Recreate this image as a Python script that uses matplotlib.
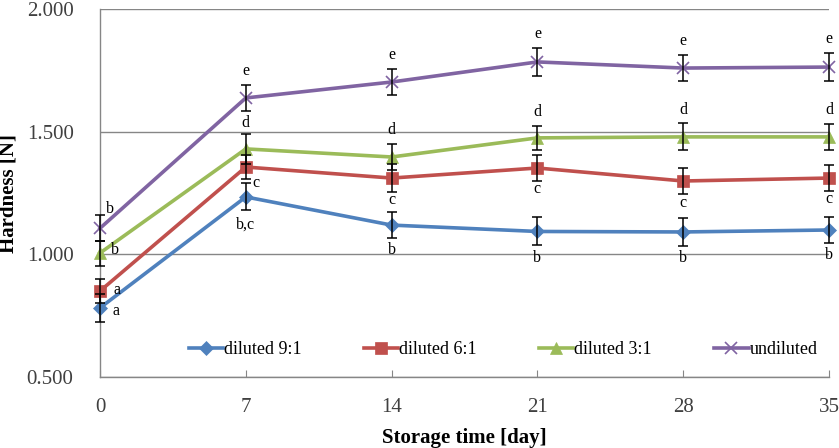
import matplotlib
matplotlib.use('Agg')
import matplotlib.pyplot as plt

days = [0, 7, 14, 21, 28, 35]
series = ['diluted 9:1', 'diluted 6:1', 'diluted 3:1', 'undiluted']
d91 = [0.782, 1.235, 1.120, 1.094, 1.092, 1.100]
d61 = [0.851, 1.357, 1.312, 1.353, 1.300, 1.312]
d31 = [1.006, 1.431, 1.398, 1.476, 1.480, 1.480]
und = [1.107, 1.639, 1.704, 1.786, 1.761, 1.765]
e91 = [0.058, 0.055, 0.052, 0.057, 0.057, 0.053]
e61 = [0.049, 0.050, 0.057, 0.053, 0.055, 0.052]
e31 = [0.051, 0.062, 0.053, 0.050, 0.055, 0.053]
eund = [0.053, 0.053, 0.053, 0.057, 0.053, 0.057]
l91 = ['a', 'b,c', 'b', 'b', 'b', 'b']
l61 = ['a', 'c', 'c', 'c', 'c', 'c']
l31 = ['b', 'd', 'd', 'd', 'd', 'd']
lund = ['b', 'e', 'e', 'e', 'e', 'e']

plt.rcParams['font.family'] = ['Liberation Serif', 'DejaVu Serif']
fig = plt.figure(figsize=(8.39, 4.48), dpi=100)
ax = fig.add_axes([0.1192, 0.1585, 0.8689, 0.8203])

colors = ['#4F81BD', '#C0504D', '#9BBB59', '#8064A2']
markers = ['D', 's', '^', 'x']
msizes = [7, 9, 8, 9]
vals = [d91, d61, d31, und]
errs = [e91, e61, e31, eund]

for i in range(4):
    ax.errorbar(days, vals[i], yerr=errs[i], fmt='none', ecolor='black',
                elinewidth=1.1, capsize=3.5, capthick=1.1, zorder=4, clip_on=False)
    ax.plot(days, vals[i], color=colors[i], lw=2.6, marker=markers[i], ms=msizes[i],
            mew=1.2 if markers[i] == 'x' else 0.5, mec=colors[i], label=series[i],
            zorder=3, clip_on=False)

# letters: position relative to point (dx, dy in points)
def put(x, y, s, dx, dy, ha='center', va='center'):
    ax.annotate(s, (x, y), xytext=(dx, dy), textcoords='offset points',
                fontsize=11.5, ha=ha, va=va, zorder=6, annotation_clip=False)

for j, x in enumerate(days):
    if j == 0:
        put(x, und[j], lund[j], 4, 14, ha='left')
        put(x, d31[j], l31[j], 8, 2, ha='left')
        put(x, d61[j], l61[j], 10, 1, ha='left')
        put(x, d91[j], l91[j], 9, -2, ha='left')
        continue
    put(x, und[j] + eund[j], lund[j], 0, 10)
    put(x, d31[j] + e31[j], l31[j], 0, 8 if j == 1 else 10)
    if j == 1:
        put(x, d61[j] - e61[j], l61[j], 5, -3, ha='left')
        put(x, d91[j] - e91[j], l91[j], 0, -10)
    else:
        put(x, d61[j] - e61[j], l61[j], 0, -6)
        put(x, d91[j] - e91[j], l91[j], 0, -9)

ax.set_xlim(0, 35)
ax.set_ylim(0.5, 2.0)
ax.set_xticks(days)
ax.set_yticks([0.5, 1.0, 1.5, 2.0])
ax.set_yticklabels(['0.500', '1.000', '1.500', '2.000'])
ax.grid(axis='y', color='#868686', lw=1.0)
ax.set_axisbelow(True)
for s in ['top', 'right']:
    ax.spines[s].set_visible(False)
for s in ['left', 'bottom']:
    ax.spines[s].set_color('#868686')
    ax.spines[s].set_linewidth(1.0)
ax.tick_params(axis='x', direction='in', length=5, color='#868686', pad=15,
               labelsize=15, labelcolor='#404040')
ax.tick_params(axis='y', length=0, pad=19, labelsize=15, labelcolor='#404040')
ax.set_xlabel('Storage time [day]', fontsize=15, fontweight='bold', labelpad=8)
ax.set_ylabel('Hardness [N]', fontsize=15, fontweight='bold')
ax.yaxis.set_label_coords(-0.112, 0.5)

ax.legend(loc='center', bbox_to_anchor=(0.553, 0.074), ncol=4, frameon=False,
          fontsize=13, handlelength=1.9, handletextpad=0.05, columnspacing=3.45,
          borderaxespad=0.0)

fig.savefig('out.png', dpi=100)
